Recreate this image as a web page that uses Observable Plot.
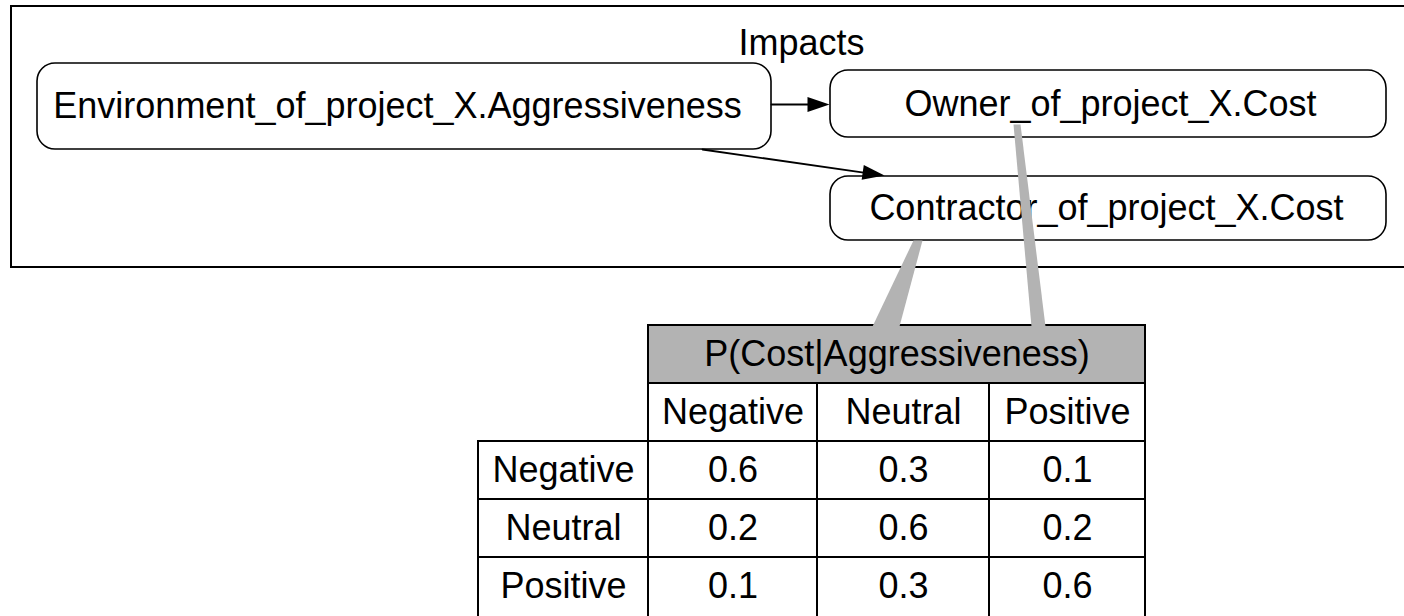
<!DOCTYPE html>
<html>
<head>
<meta charset="utf-8">
<script src="https://cdn.jsdelivr.net/npm/d3@7"></script>
<script src="https://cdn.jsdelivr.net/npm/@observablehq/plot@0.6"></script>
<style>
  html, body { margin: 0; padding: 0; background: white; overflow: hidden; }
  #chart svg { display: block; }
</style>
</head>
<body>
<div id="chart"></div>
<script>
// ---------- DATA ----------
const groupLabel = "Impacts";
const nodeNames = [
  "Environment_of_project_X.Aggressiveness",
  "Owner_of_project_X.Cost",
  "Contractor_of_project_X.Cost"
];
const edgeList = [[0, 1], [0, 2]];          // parent -> child
const tableTitle = "P(Cost|Aggressiveness)";
const columnStates = ["Negative", "Neutral", "Positive"];   // Cost
const rowStates = ["Negative", "Neutral", "Positive"];      // Aggressiveness
const probabilities = [
  [0.6, 0.3, 0.1],
  [0.2, 0.6, 0.2],
  [0.1, 0.3, 0.6]
];

// ---------- LAYOUT (diagram geometry, kept apart from the data) ----------
const W = 1404, H = 616;
const frameBox = {x1: 11, y1: 6, x2: 1430, y2: 267};
const groupLabelPos = {x: 801, y: 43};
const nodeBoxes = [
  {x1: 37, y1: 63, x2: 771, y2: 149, tx: 397},
  {x1: 830, y1: 70, x2: 1386, y2: 137, tx: 1110},
  {x1: 830, y1: 176, x2: 1386, y2: 240, tx: 1106}
];
const edgeEnds = [
  {sx: 771, sy: 104, tx: 829, ty: 104},
  {sx: 702, sy: 149, tx: 884, ty: 175}
];
const colEdges = [478, 648, 817, 989, 1145];
const rowEdges = [325, 383, 441, 499, 557, 620];
const wedges = [
  {from: [[1013, 124], [1020, 124]], to: [[1045, 326], [1031, 326]]},
  {from: [[913, 240], [922, 240]], to: [[899, 326], [872, 326]]}
];
const FONT = "Liberation Sans, Arial, Helvetica, sans-serif";
const FS = 36;
const GRAY = "#b3b3b3";

// ---------- DERIVED MARK DATA ----------
const nodes = nodeNames.map((name, i) => ({name, ...nodeBoxes[i],
  cy: (nodeBoxes[i].y1 + nodeBoxes[i].y2) / 2}));

const headLen = 22, headHalf = 7.5;
const edgeLines = [], heads = [];
edgeList.forEach(([a, b], i) => {
  const e = edgeEnds[i];
  const dx = e.tx - e.sx, dy = e.ty - e.sy, len = Math.hypot(dx, dy);
  const ux = dx / len, uy = dy / len, nx = -uy, ny = ux;
  const bx = e.tx - ux * headLen, by = e.ty - uy * headLen;
  edgeLines.push({id: i, x: e.sx, y: e.sy}, {id: i, x: bx + ux, y: by + uy});
  heads.push({id: i, x: e.tx, y: e.ty},
             {id: i, x: bx + nx * headHalf, y: by + ny * headHalf},
             {id: i, x: bx - nx * headHalf, y: by - ny * headHalf});
});

const wedgePts = [];
wedges.forEach((w, i) => {
  [...w.from, ...w.to].forEach(([x, y]) => wedgePts.push({id: i, x, y}));
});

// table cells
const cells = [];
cells.push({x1: colEdges[1], x2: colEdges[4], y1: rowEdges[0], y2: rowEdges[1],
  label: tableTitle, fill: GRAY});
columnStates.forEach((s, j) => cells.push({x1: colEdges[j + 1], x2: colEdges[j + 2],
  y1: rowEdges[1], y2: rowEdges[2], label: s, fill: "white"}));
rowStates.forEach((s, i) => {
  cells.push({x1: colEdges[0], x2: colEdges[1], y1: rowEdges[i + 2], y2: rowEdges[i + 3],
    label: s, fill: "white"});
  probabilities[i].forEach((p, j) => cells.push({x1: colEdges[j + 1], x2: colEdges[j + 2],
    y1: rowEdges[i + 2], y2: rowEdges[i + 3], label: d3.format(".1f")(p), fill: "white"}));
});
cells.forEach(c => { c.cx = (c.x1 + c.x2) / 2; c.cy = (c.y1 + Math.min(c.y2, c.y1 + 58)) / 2; });

// ---------- PLOT ----------
const chart = Plot.plot({
  width: W, height: H, margin: 0,
  x: {domain: [0, W], range: [0, W], axis: null},
  y: {domain: [0, H], range: [0, H], axis: null},
  style: {background: "white", overflow: "hidden"},
  marks: [
    Plot.rect([frameBox], {x1: "x1", x2: "x2", y1: "y1", y2: "y2",
      fill: "none", stroke: "black", strokeWidth: 2}),
    Plot.text([groupLabel], {x: groupLabelPos.x, y: groupLabelPos.y, text: d => d,
      fontSize: FS, fontFamily: FONT, fill: "black", lineAnchor: "middle"}),
    Plot.rect(nodes, {x1: "x1", x2: "x2", y1: "y1", y2: "y2", rx: 18, ry: 18,
      fill: "white", stroke: "black", strokeWidth: 1.6}),
    Plot.text(nodes, {x: "tx", y: "cy", text: "name",
      fontSize: FS, fontFamily: FONT, fill: "black", lineAnchor: "middle"}),
    Plot.line(edgeLines, {x: "x", y: "y", z: "id", stroke: "black", strokeWidth: 1.8}),
    Plot.line(heads, {x: "x", y: "y", z: "id", fill: "black", stroke: "none", curve: "linear-closed"}),
    Plot.rect(cells, {x1: "x1", x2: "x2", y1: "y1", y2: "y2", fill: "fill",
      stroke: "black", strokeWidth: 2}),
    Plot.text(cells, {x: "cx", y: "cy", text: "label",
      fontSize: FS, fontFamily: FONT, fill: "black", lineAnchor: "middle"}),
    Plot.line(wedgePts, {x: "x", y: "y", z: "id", fill: GRAY, stroke: "none", curve: "linear-closed"})
  ]
});
document.getElementById("chart").appendChild(chart);
</script>
</body>
</html>
